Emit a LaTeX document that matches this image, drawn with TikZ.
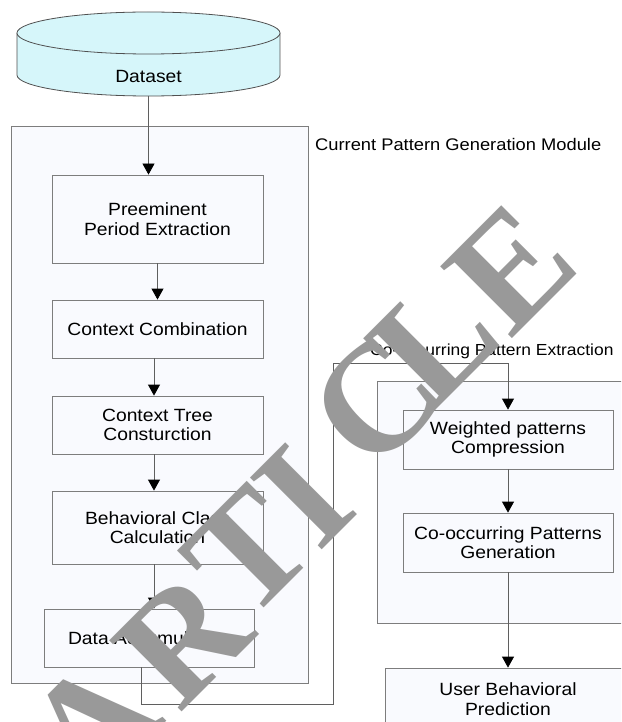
\documentclass[tikz,border=0pt]{standalone}
\usepackage{fontspec}
\setmainfont{Liberation Sans}[FakeStretch=1.09]
\newfontfamily\wmfont{Liberation Serif Bold}
\usetikzlibrary{arrows.meta}
\definecolor{boxline}{RGB}{125,125,125}
\definecolor{modfill}{RGB}{249,250,254}
\definecolor{cylfill}{RGB}{214,246,250}
\definecolor{cylline}{RGB}{80,80,80}
\definecolor{wmgray}{RGB}{153,153,153}
\definecolor{conn}{RGB}{95,95,95}
\begin{document}
\begin{tikzpicture}[x=1pt,y=-1pt,
  boxtext/.style={font=\fontsize{17.7}{19.5}\selectfont},
  stepbox/.style={draw=boxline, fill=modfill, line width=0.8pt, inner sep=0pt,
    align=center, boxtext},
  modbox/.style={draw=boxline, fill=modfill, line width=0.8pt, inner sep=0pt},
  modlabel/.style={anchor=west, inner sep=0pt, font=\fontsize{16.8}{19}\selectfont},
  arr/.style={draw=conn, line width=0.8pt, -{Triangle[width=12pt,length=11pt,color=black]}},
  wm/.style={text=wmgray, inner sep=0pt, font=\wmfont\fontsize{155}{155}\selectfont, rotate=45}]
\useasboundingbox (0,0) rectangle (621,722);
\clip (0,0) rectangle (621,722);
\fill[white] (0,0) rectangle (621,722);

% modules
\node[modbox, minimum width=297pt, minimum height=557pt] (cpm) at (159.5,404.5) {};
\node[modlabel] (cpml) at (315,144) {Current Pattern Generation Module};
\node[modbox, minimum width=273pt, minimum height=242pt] (cop) at (513.5,502) {};
\node[modlabel, font=\fontsize{16}{19}\selectfont] (copl) at (370,351) {Co-occurring Pattern Extraction};

% dataset cylinder
\fill[cylfill] (17,33) rectangle (280,75);
\fill[cylfill] (148.5,75) ellipse [x radius=131.5, y radius=21];
\draw[cylline, line width=0.8pt] (17,33) -- (17,75) arc[start angle=180, end angle=0, x radius=131.5, y radius=21] -- (280,33);
\draw[cylline, line width=0.8pt, fill=cylfill] (148.5,33) ellipse [x radius=131.5, y radius=21];
\node[boxtext, inner sep=0pt] (ds) at (148.5,76) {Dataset};
\coordinate (dsb) at (148.5,96);

% steps
\node[stepbox, minimum width=211pt, minimum height=88pt] (b1) at (157.5,219) {Preeminent\\Period Extraction};
\node[stepbox, minimum width=211pt, minimum height=58pt] (b2) at (157.5,329) {Context Combination};
\node[stepbox, minimum width=211pt, minimum height=58pt] (b3) at (157.5,425) {Context Tree\\Consturction};
\node[stepbox, minimum width=211pt, minimum height=73pt] (b4) at (157.5,527.5) {Behavioral Class\\Calculation};
\node[stepbox, minimum width=210pt, minimum height=58pt] (b5) at (149,638) {Data Accumulation};
\node[stepbox, minimum width=210pt, minimum height=59pt] (wp) at (508,439.5) {Weighted patterns\\Compression};
\node[stepbox, minimum width=210pt, minimum height=59pt] (cg) at (508,542.5) {Co-occurring Patterns\\Generation};
\node[stepbox, minimum width=246pt, minimum height=62pt] (ub) at (508,699) {User Behavioral\\Prediction};

% connectors
\coordinate (k1) at (333,704);
\coordinate (k2) at (333,363);
\draw[arr] (dsb) -- (dsb |- b1.north);
\draw[arr] (b1.south) -- (b2.north);
\draw[arr] ([xshift=-3.5pt]b2.south) -- ([xshift=-3.5pt]b3.north);
\draw[arr] ([xshift=-3.5pt]b3.south) -- ([xshift=-3.5pt]b4.north);
\draw[arr] ([xshift=-3.5pt]b4.south) -- ([xshift=-3.5pt]b4.south |- b5.north);
\draw[arr] ([xshift=-8pt]b5.south) |- (k1) -- (k2) -| (wp.north);
\draw[arr] (wp.south) -- (cg.north);
\draw[arr] (cg.south) -- (ub.north);

% watermark
\node[wm] (wA) at (92,724) {A};
\node[wm] (wR) at (183,639) {R};
\node[wm] (wT) at (248,552) {T};
\node[wm] (wI) at (304,496) {I};
\node[wm] (wC) at (376,401) {C};
\node[wm] (wL) at (434,340) {L};
\node[wm] (wE) at (511,268) {E};
\end{tikzpicture}
\end{document}
